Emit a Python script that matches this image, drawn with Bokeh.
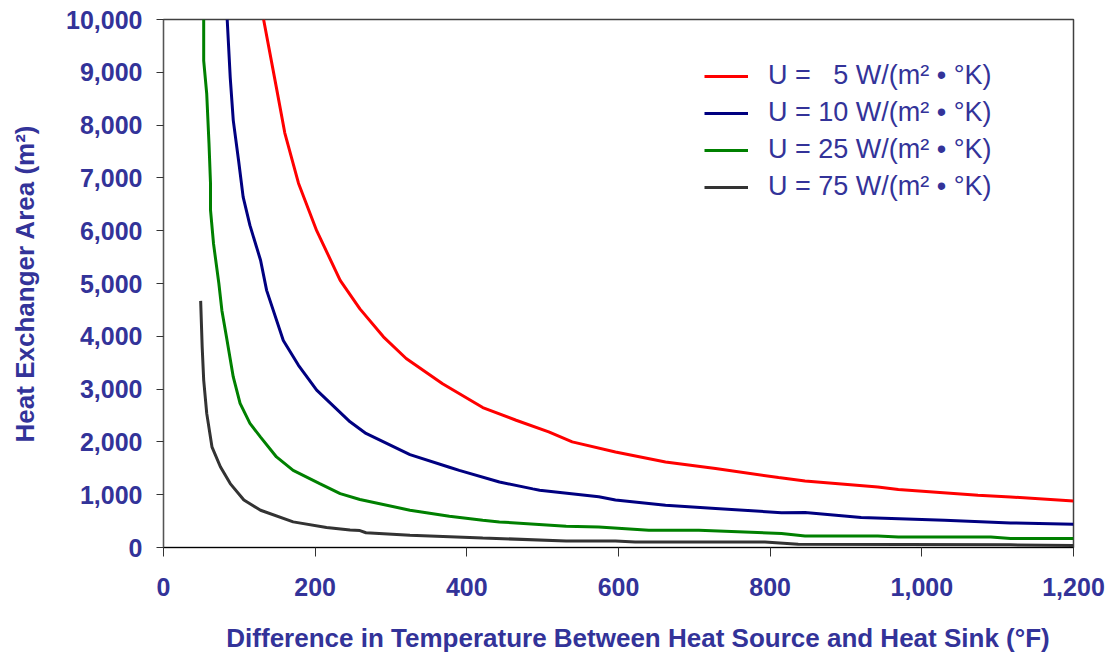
from bokeh.plotting import figure
from bokeh.models import Range1d, NumeralTickFormatter, Legend, LegendItem, FixedTicker
from bokeh.embed import file_html
from bokeh.resources import INLINE

# Data (temperature difference in °F, heat exchanger area in m²)
u5_x = [132, 149, 160, 178, 202, 233, 259, 290, 320, 368, 421, 465, 508, 539, 596, 662, 728, 811, 846, 942, 969, 1074, 1117, 1200]
u5_y = [10000, 8700, 7850, 6900, 6000, 5060, 4520, 3990, 3580, 3100, 2650, 2410, 2190, 2000, 1810, 1620, 1495, 1325, 1261, 1147, 1098, 990, 958, 880]

u10_x = [84, 88, 92, 99, 105, 114, 128, 136, 158, 178, 202, 246, 267, 325, 377, 390, 443, 487, 496, 574, 596, 662, 728, 815, 846, 920, 1030, 1117, 1200]
u10_y = [10000, 8900, 8090, 7330, 6640, 6100, 5440, 4870, 3920, 3450, 2980, 2380, 2160, 1760, 1520, 1460, 1240, 1110, 1085, 960, 900, 800, 740, 660, 665, 570, 517, 466, 441]

u25_x = [53, 53, 57, 60, 62, 62, 66, 73, 77, 83, 92, 101, 114, 128, 149, 171, 206, 233, 259, 325, 377, 421, 443, 531, 574, 640, 706, 815, 846, 942, 969, 1091, 1117, 1200]
u25_y = [10000, 9220, 8590, 7650, 6890, 6390, 5750, 5000, 4490, 3990, 3230, 2730, 2350, 2090, 1715, 1460, 1210, 1020, 910, 706, 592, 517, 485, 403, 390, 328, 328, 265, 220, 220, 200, 200, 170, 170]

u75_x = [49, 51, 53, 57, 64, 75, 88, 106, 128, 171, 215, 246, 259, 267, 325, 421, 531, 596, 622, 793, 837, 1117, 1200]
u75_y = [4670, 3800, 3170, 2540, 1900, 1530, 1210, 900, 706, 485, 380, 330, 320, 280, 233, 180, 125, 125, 106, 106, 62, 50, 40]

labels = ["U = \u20075 W/(m\u00b2 \u2022 \u00b0K)", "U = 10 W/(m\u00b2 \u2022 \u00b0K)",
          "U = 25 W/(m\u00b2 \u2022 \u00b0K)", "U = 75 W/(m\u00b2 \u2022 \u00b0K)"]
colors = ["#FF0000", "#000080", "#008000", "#333333"]
x_ticks = [0, 200, 400, 600, 800, 1000, 1200]
y_ticks = [0, 1000, 2000, 3000, 4000, 5000, 6000, 7000, 8000, 9000, 10000]

TXT = "#333399"
FONT = "Liberation Sans"

p = figure(width=1113, height=655, output_backend="svg", toolbar_location=None,
           x_range=Range1d(0, 1200), y_range=Range1d(0, 10000),
           min_border_left=163, min_border_right=40, min_border_top=19, min_border_bottom=108)
p.background_fill_color = "white"
p.border_fill_color = "white"
p.xgrid.visible = False
p.ygrid.visible = False
p.outline_line_color = "#404040"
p.outline_line_width = 1.5

series = [(u5_x, u5_y), (u10_x, u10_y), (u25_x, u25_y), (u75_x, u75_y)]
items = []
for (xs, ys), c, lab in zip(series, colors, labels):
    r = p.line(xs, ys, line_color=c, line_width=3)
    items.append(LegendItem(label=lab, renderers=[r]))

for ax in (p.xaxis[0], p.yaxis[0]):
    ax.major_label_text_font = FONT
    ax.major_label_text_font_style = "bold"
    ax.major_label_text_font_size = "25px"
    ax.major_label_text_color = TXT
    ax.minor_tick_line_color = None
    ax.major_tick_in = 0
    ax.formatter = NumeralTickFormatter(format="0,0")
    ax.axis_label_text_font = FONT
    ax.axis_label_text_font_style = "bold"
    ax.axis_label_text_font_size = "26px"
    ax.axis_label_text_color = TXT

p.xaxis.ticker = FixedTicker(ticks=x_ticks)
p.yaxis.ticker = FixedTicker(ticks=y_ticks)
p.xaxis.axis_line_color = "black"
p.xaxis.major_tick_line_color = "#333333"
p.xaxis.major_tick_out = 9
p.xaxis.major_label_standoff = 21
p.xaxis.axis_label = "\u2002\u2002\u2002Difference in Temperature Between Heat Source and Heat Sink (\u00b0F)"
p.xaxis.axis_label_standoff = 24
p.yaxis.axis_line_color = "#555555"
p.yaxis.major_tick_line_color = "#333333"
p.yaxis.major_tick_out = 7
p.yaxis.major_label_standoff = 14
p.yaxis.axis_label = "Heat Exchanger Area (m\u00b2)"
p.yaxis.axis_label_standoff = 23

legend = Legend(items=items, location=(541, 345))
legend.label_text_font = FONT
legend.label_text_font_size = "27px"
legend.label_text_color = TXT
legend.glyph_width = 44
legend.glyph_height = 24
legend.label_height = 24
legend.label_standoff = 20
legend.spacing = 6
legend.padding = 0
legend.margin = 0
legend.border_line_color = None
legend.background_fill_alpha = 0
p.add_layout(legend)

open("out.html", "w").write(file_html(p, INLINE))
